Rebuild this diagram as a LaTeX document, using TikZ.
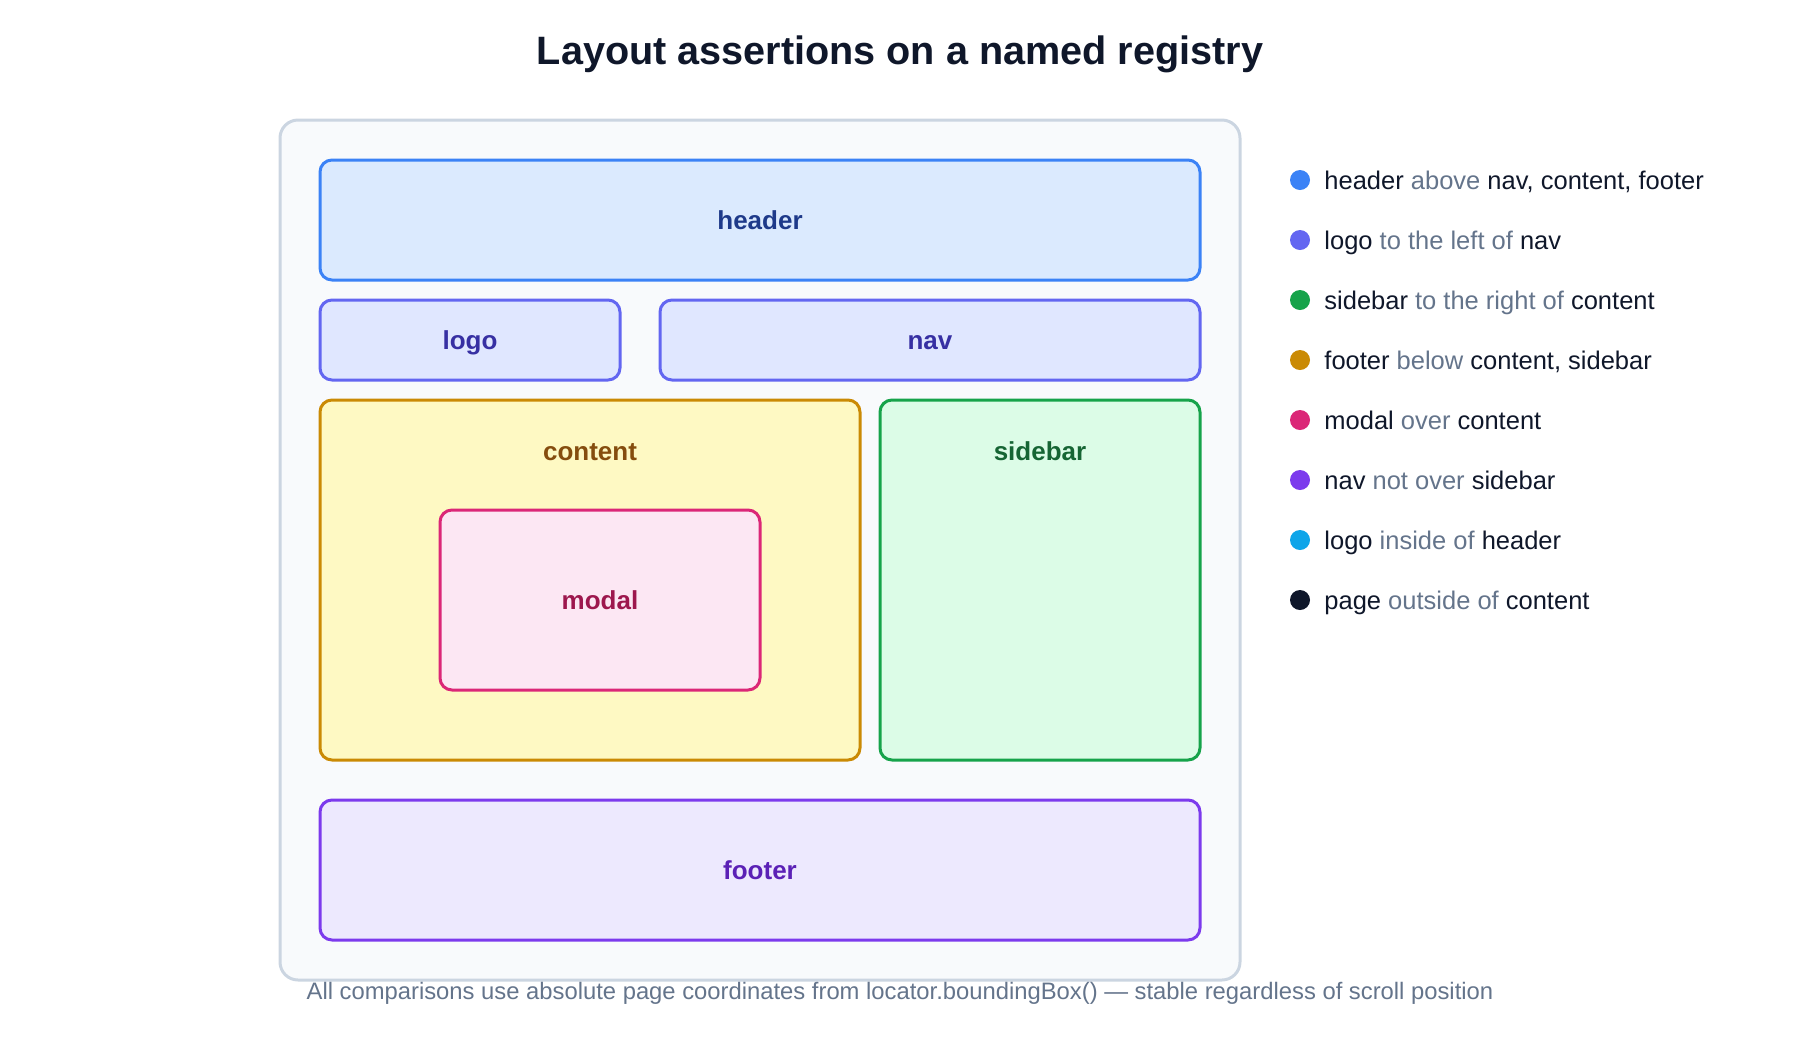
\documentclass[tikz,border=0pt]{standalone}
\usepackage{fontspec}
\setmainfont{Liberation Sans}
\usetikzlibrary{positioning, calc}
\definecolor{ink}{HTML}{0F172A}
\definecolor{muted}{HTML}{64748B}
\definecolor{panelbg}{HTML}{F8FAFC}
\definecolor{panelline}{HTML}{CBD5E1}
\definecolor{headerfill}{HTML}{DBEAFE}
\definecolor{headerline}{HTML}{3B82F6}
\definecolor{headertext}{HTML}{1E3A8A}
\definecolor{navfill}{HTML}{E0E7FF}
\definecolor{navline}{HTML}{6366F1}
\definecolor{navtext}{HTML}{3730A3}
\definecolor{contentfill}{HTML}{FEF9C3}
\definecolor{contentline}{HTML}{CA8A04}
\definecolor{contenttext}{HTML}{854D0E}
\definecolor{sidefill}{HTML}{DCFCE7}
\definecolor{sideline}{HTML}{16A34A}
\definecolor{sidetext}{HTML}{166534}
\definecolor{modalfill}{HTML}{FCE7F3}
\definecolor{modalline}{HTML}{DB2777}
\definecolor{modaltext}{HTML}{9D174D}
\definecolor{footfill}{HTML}{EDE9FE}
\definecolor{footline}{HTML}{7C3AED}
\definecolor{foottext}{HTML}{5B21B6}
\definecolor{skyline}{HTML}{0EA5E9}

\begin{document}
\begin{tikzpicture}[x=1pt, y=-1pt,
  region/.style={draw, rectangle, rounded corners=6pt, line width=1.5pt, inner sep=0pt},
  regionlabel/.style={inner sep=0pt, font=\fontsize{13}{15}\selectfont\bfseries, text height=0.72em, text depth=0pt},
  legdot/.style={circle, inner sep=0pt, minimum size=10pt},
  legtext/.style={anchor=base west, inner sep=0pt, font=\fontsize{12.75}{15}\selectfont, text=ink}]

  \useasboundingbox (0,0) rectangle (900,520);

  % Title
  \node[font=\fontsize{19.8}{24}\selectfont\bfseries, text=ink, text height=0.72em, text depth=0pt] (title) at (450,28.5) {Layout assertions on a named registry};

  % Page panel
  \node[draw=panelline, fill=panelbg, rounded corners=9pt, line width=1.5pt, minimum width=480pt, minimum height=430pt] (page) at (380,275) {};

  % Regions
  \node[region, draw=headerline, fill=headerfill, minimum width=440pt, minimum height=60pt] (header) at (380,110) {};
  \node[regionlabel, text=headertext] (headerlbl) at ($(header.center)+(0,1.3)$) {header};
  \node[region, draw=navline, fill=navfill, minimum width=150pt, minimum height=40pt] (logo) at (235,170) {};
  \node[regionlabel, text=navtext] (logolbl) at ($(logo.center)+(0,1.3)$) {logo};
  \node[region, draw=navline, fill=navfill, minimum width=270pt, minimum height=40pt] (nav) at (465,170) {};
  \node[regionlabel, text=navtext] (navlbl) at ($(nav.center)+(0,1.3)$) {nav};
  \node[region, draw=contentline, fill=contentfill, minimum width=270pt, minimum height=180pt] (content) at (295,290) {};
  \node[regionlabel, text=contenttext] (contentlbl) at ($(content.north)+(0,27.3)$) {content};
  \node[region, draw=sideline, fill=sidefill, minimum width=160pt, minimum height=180pt] (sidebar) at (520,290) {};
  \node[regionlabel, text=sidetext] (sidebarlbl) at ($(sidebar.north)+(0,27.3)$) {sidebar};
  \node[region, draw=modalline, fill=modalfill, minimum width=160pt, minimum height=90pt] (modal) at (300,300) {};
  \node[regionlabel, text=modaltext] (modallbl) at ($(modal.center)+(0,1.3)$) {modal};
  \node[region, draw=footline, fill=footfill, minimum width=440pt, minimum height=70pt] (footer) at (380,435) {};
  \node[regionlabel, text=foottext] (footerlbl) at ($(footer.center)+(0,1.3)$) {footer};

  % Legend of assertions
  \node[legdot, fill=headerline] (dot1) at (650,90) {};
  \node[legtext] (leg1) at (662,94.6) {header \textcolor{muted}{above} nav, content, footer};
  \node[legdot, fill=navline] (dot2) at (650,120) {};
  \node[legtext] (leg2) at (662,124.6) {logo \textcolor{muted}{to the left of} nav};
  \node[legdot, fill=sideline] (dot3) at (650,150) {};
  \node[legtext] (leg3) at (662,154.6) {sidebar \textcolor{muted}{to the right of} content};
  \node[legdot, fill=contentline] (dot4) at (650,180) {};
  \node[legtext] (leg4) at (662,184.6) {footer \textcolor{muted}{below} content, sidebar};
  \node[legdot, fill=modalline] (dot5) at (650,210) {};
  \node[legtext] (leg5) at (662,214.6) {modal \textcolor{muted}{over} content};
  \node[legdot, fill=footline] (dot6) at (650,240) {};
  \node[legtext] (leg6) at (662,244.6) {nav \textcolor{muted}{not over} sidebar};
  \node[legdot, fill=skyline] (dot7) at (650,270) {};
  \node[legtext] (leg7) at (662,274.6) {logo \textcolor{muted}{inside of} header};
  \node[legdot, fill=ink] (dot8) at (650,300) {};
  \node[legtext] (leg8) at (662,304.6) {page \textcolor{muted}{outside of} content};

  % Footnote
  \node[font=\fontsize{11.9}{14}\selectfont, text=muted, text height=0.72em, text depth=0pt] (note) at (450,496) {All comparisons use absolute page coordinates from locator.boundingBox() — stable regardless of scroll position};
\end{tikzpicture}
\end{document}
